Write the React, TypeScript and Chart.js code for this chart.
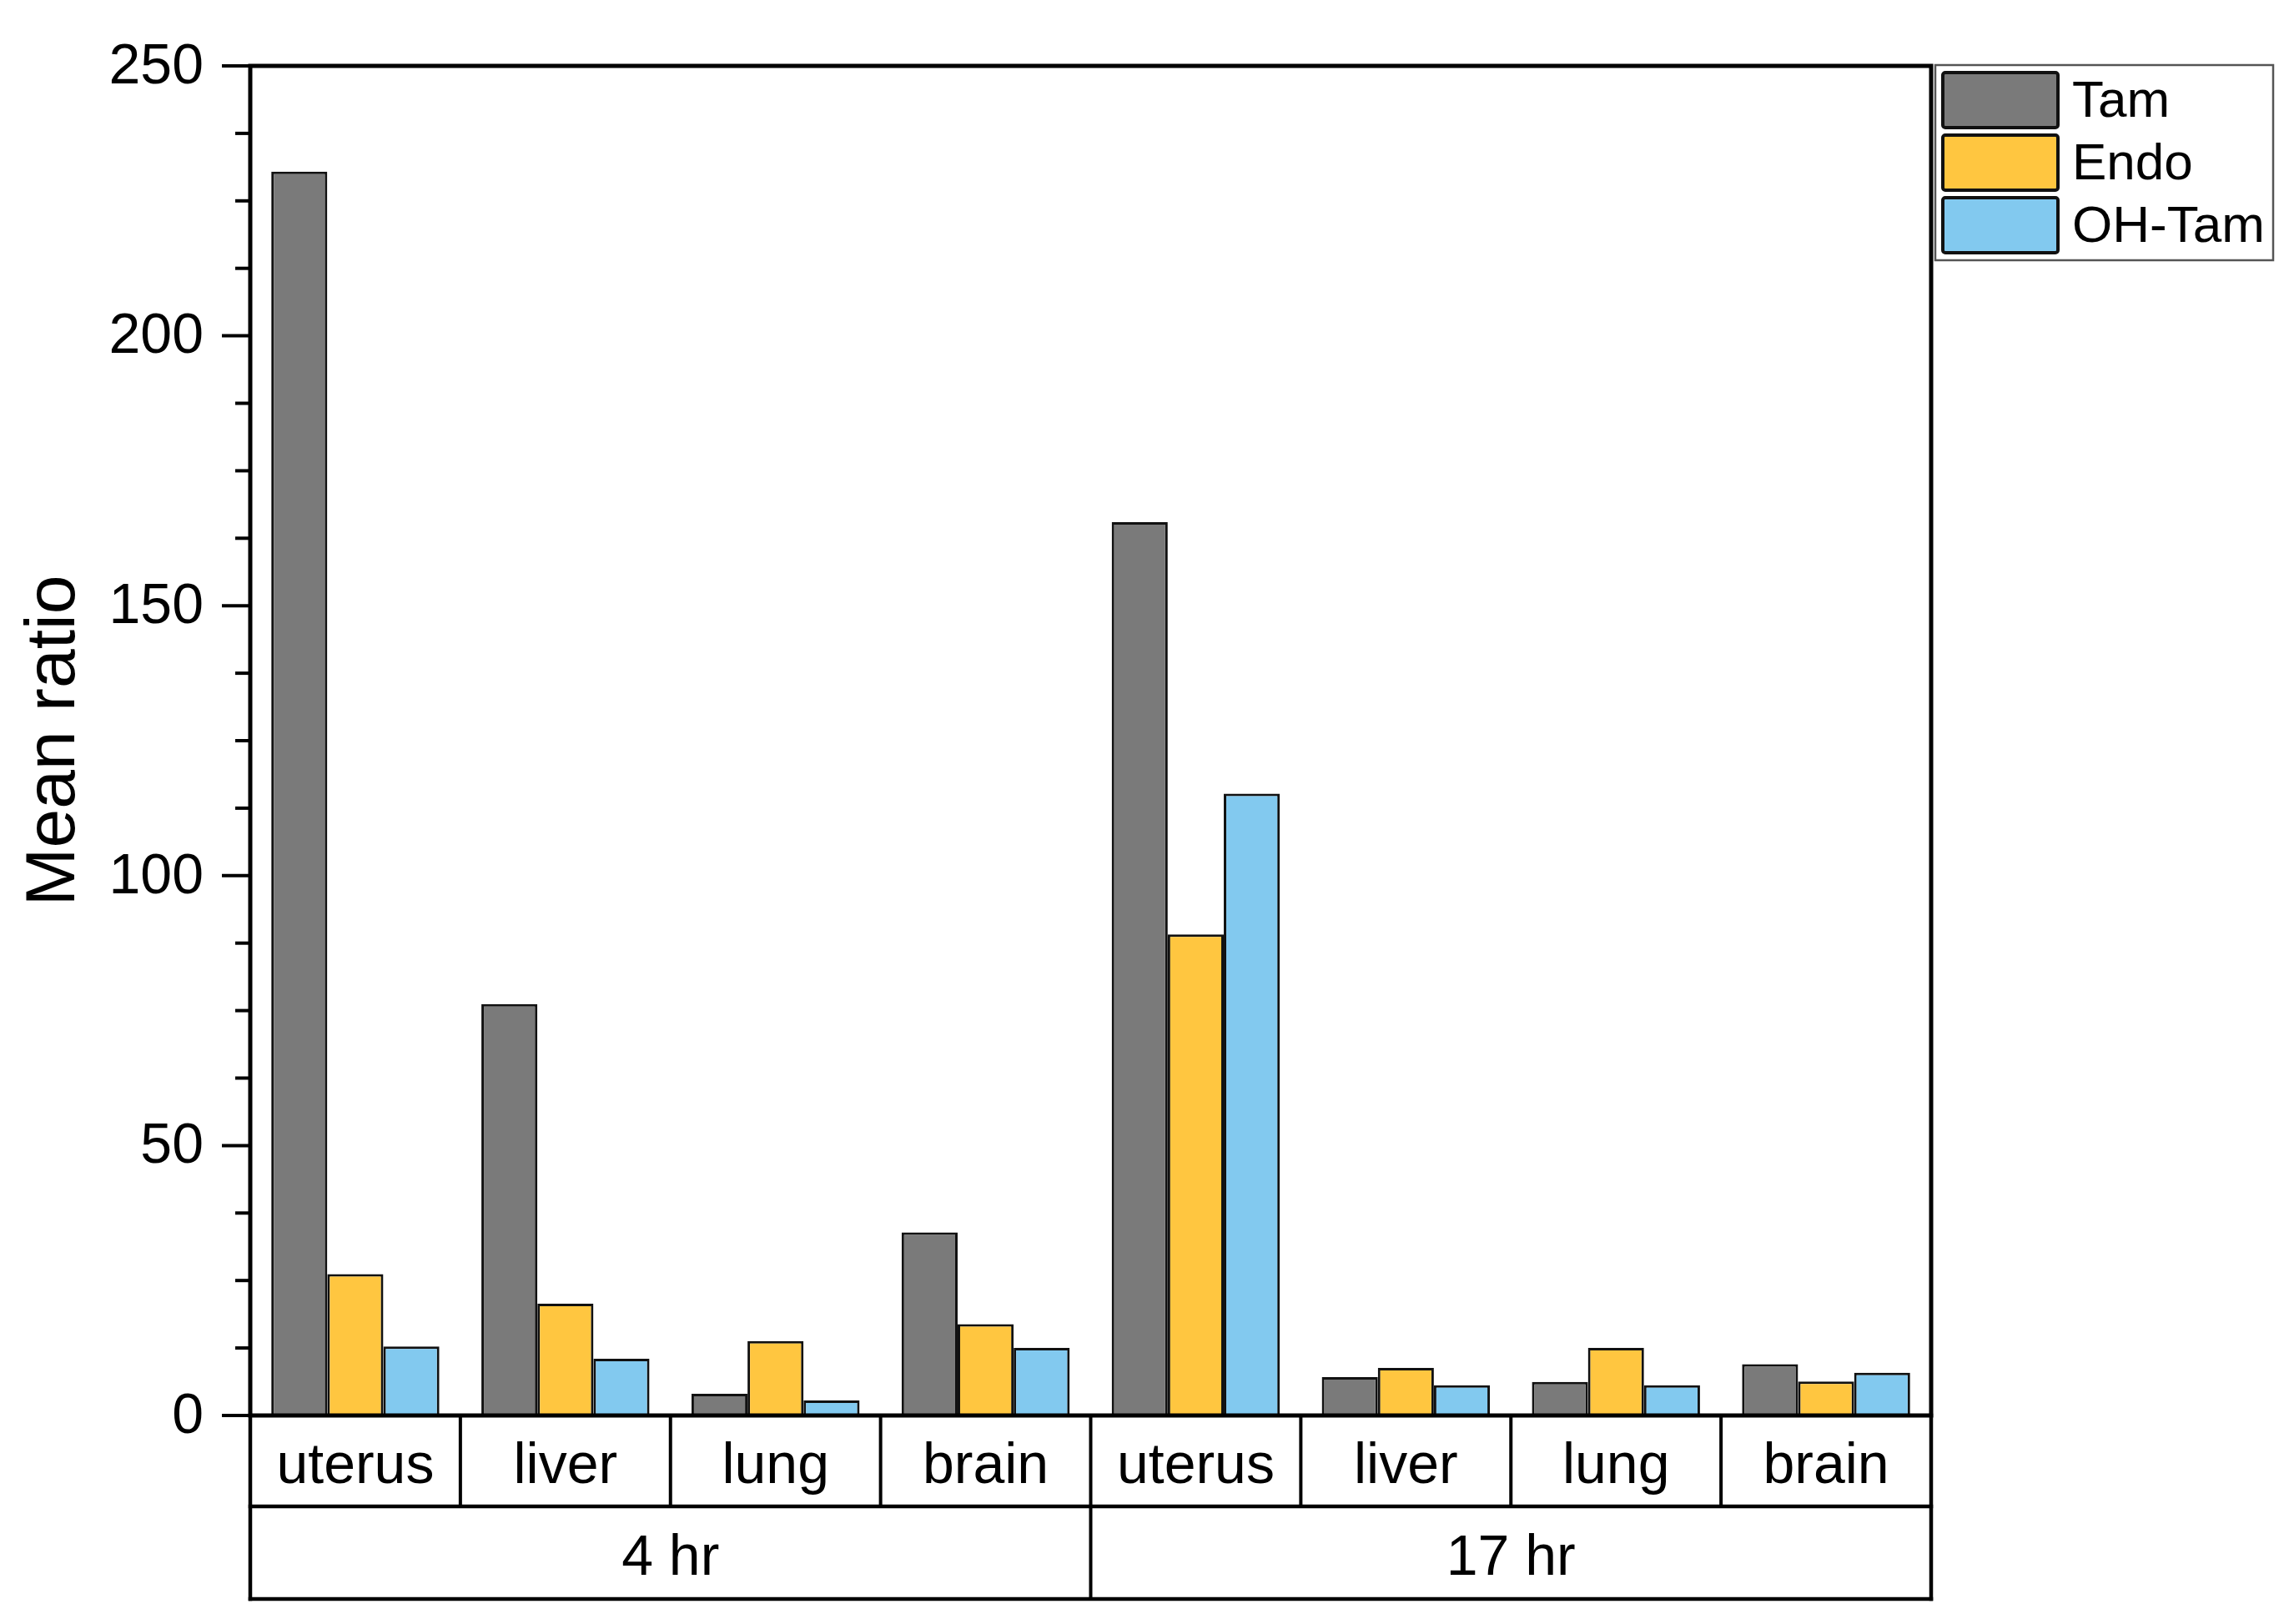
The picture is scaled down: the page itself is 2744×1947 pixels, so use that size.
import React, { useEffect, useRef } from "react";
import { Chart, registerables } from "chart.js";

Chart.register(...registerables);

// categories: two time points, four tissues each
const timeGroups = ["4 hr", "17 hr"];
const tissues = ["uterus", "liver", "lung", "brain"];
const seriesNames = ["Tam", "Endo", "OH-Tam"];

// values, per tissue, 4 hr then 17 hr
const tamValues = [230.4, 76.2, 4.0, 33.9, 165.5, 7.1, 6.2, 9.5];
const endoValues = [26.2, 20.7, 13.8, 16.9, 89.1, 8.8, 12.5, 6.3];
const ohTamValues = [12.8, 10.5, 2.8, 12.5, 115.2, 5.6, 5.6, 7.9];

// y axis
const yMin = 0;
const yMax = 250;
const yMajorStep = 50;
const yMinorStep = 12.5;
const yTitle = "Mean ratio";

const seriesColors = ["#7a7a7a", "#ffc640", "#82c9ef"];
const FONT = "'Liberation Sans', Arial, sans-serif";

const categoryLabels = timeGroups.flatMap((g) => tissues.map((t) => `${t} (${g})`));

const axesPlugin = {
    id: "originAxes",
    afterDraw(chart: any) {
        const { ctx, chartArea: a } = chart;
        const x = chart.scales.x;
        const y = chart.scales.y;
        const n = chart.data.labels.length;
        const catW = (a.right - a.left) / n;
        const row1 = a.bottom + 109;
        const row2 = a.bottom + 220;

        ctx.save();
        ctx.strokeStyle = "#000";
        ctx.fillStyle = "#000";
        ctx.lineCap = "square";

        const line = (x1: number, y1: number, x2: number, y2: number) => {
            ctx.beginPath();
            ctx.moveTo(x1, y1);
            ctx.lineTo(x2, y2);
            ctx.stroke();
        };

        // plot frame
        ctx.lineWidth = 5;
        ctx.strokeRect(a.left, a.top, a.right - a.left, a.bottom - a.top);

        // y ticks, major with labels, minor without
        ctx.lineWidth = 4;
        ctx.font = `68px ${FONT}`;
        ctx.textAlign = "right";
        ctx.textBaseline = "middle";
        y.ticks.forEach((t: any) => {
            const py = y.getPixelForValue(t.value);
            const major = Math.abs(t.value % yMajorStep) < 1e-6;
            line(a.left - (major ? 32 : 16), py, a.left, py);
            if (major) ctx.fillText(String(t.value), a.left - 56, py + 2);
        });

        // category table under the plot
        ctx.lineWidth = 4.5;
        line(a.left, a.bottom, a.left, row2);
        line(a.right, a.bottom, a.right, row2);
        line(a.left, row1, a.right, row1);
        line(a.left, row2, a.right, row2);
        ctx.lineWidth = 4;
        for (let i = 1; i < n; i++) {
            const bx = x.getPixelForValue(i) - catW / 2;
            line(bx, a.bottom, bx, i % tissues.length === 0 ? row2 : row1);
        }
        ctx.textAlign = "center";
        ctx.font = `68px ${FONT}`;
        for (let i = 0; i < n; i++) {
            ctx.fillText(tissues[i % tissues.length], x.getPixelForValue(i), a.bottom + 62);
        }
        timeGroups.forEach((g, gi) => {
            const first = x.getPixelForValue(gi * tissues.length);
            const last = x.getPixelForValue(gi * tissues.length + tissues.length - 1);
            ctx.fillText(g, (first + last) / 2, a.bottom + 172);
        });

        // y title
        ctx.save();
        ctx.translate(66, (a.top + a.bottom) / 2);
        ctx.rotate(-Math.PI / 2);
        ctx.font = `84px ${FONT}`;
        ctx.textAlign = "center";
        ctx.fillText(yTitle, 0, 0);
        ctx.restore();

        // legend box
        const lx = a.right + 5;
        const ly = a.top - 1;
        ctx.lineWidth = 2.5;
        ctx.strokeStyle = "#555";
        ctx.strokeRect(lx, ly, 405, 234);
        ctx.font = `62px ${FONT}`;
        ctx.textAlign = "left";
        chart.data.datasets.forEach((ds: any, i: number) => {
            const sy = ly + 9 + i * 75;
            ctx.fillStyle = ds.backgroundColor;
            ctx.strokeStyle = "#111";
            ctx.lineWidth = 4;
            ctx.beginPath();
            ctx.roundRect(lx + 9, sy, 138, 66, 3);
            ctx.fill();
            ctx.stroke();
            ctx.fillStyle = "#000";
            ctx.fillText(ds.label, lx + 164, sy + 36);
        });
        ctx.restore();
    },
};

export default function App() {
    const canvasRef = useRef<HTMLCanvasElement | null>(null);

    useEffect(() => {
        if (!canvasRef.current) return;
        const series = [tamValues, endoValues, ohTamValues];
        const chart = new Chart(canvasRef.current, {
            type: "bar",
            data: {
                labels: categoryLabels,
                datasets: series.map((values, i) => ({
                    label: seriesNames[i],
                    data: values,
                    backgroundColor: seriesColors[i],
                    borderColor: "#111",
                    borderWidth: 3,
                    categoryPercentage: 0.8,
                    barPercentage: 1.0,
                })),
            },
            options: {
                responsive: false,
                animation: false,
                devicePixelRatio: 1,
                layout: { padding: { left: 300, top: 79, right: 429, bottom: 250 } },
                scales: {
                    x: { display: false, offset: true },
                    y: {
                        display: false,
                        min: yMin,
                        max: yMax,
                        ticks: { stepSize: yMinorStep },
                    },
                },
                plugins: {
                    legend: { display: false },
                    tooltip: { enabled: false },
                },
            },
            plugins: [axesPlugin],
        });
        return () => chart.destroy();
    }, []);

    return (
        <div style={{ position: "absolute", left: 0, top: 0, width: 2744, height: 1947, background: "#fff" }}>
            <canvas ref={canvasRef} width={2744} height={1947}></canvas>
        </div>
    );
}
